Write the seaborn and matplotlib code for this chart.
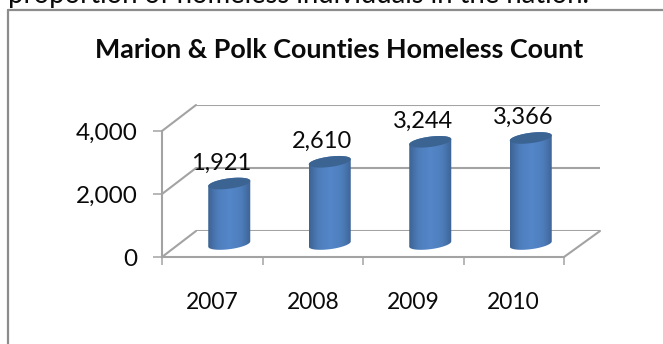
import numpy as np
import pandas as pd
import matplotlib
matplotlib.use("Agg")
import matplotlib.pyplot as plt
from matplotlib.patches import PathPatch, ConnectionPatch
from matplotlib.path import Path
import seaborn as sns

years = ["2007", "2008", "2009", "2010"]
counts = [1921, 2610, 3244, 3366]
y_ticks = [0, 2000, 4000]
title = "Marion & Polk Counties Homeless Count"
lead_in = "proportion of homeless individuals in the nation."

W, H = 663, 344
GRID = "#a3a3a3"
FRAME = "#8c8c8c"
TEXT = "#0a0a0a"
BAR_EDGE = (0.24, 0.39, 0.58)
BAR_MID = (0.33, 0.53, 0.79)
BAR_TOP = "#3c6493"

sns.set_theme(style="white")
plt.rcParams["font.family"] = ["Lato", "DejaVu Sans"]

fig = plt.figure(figsize=(W / 100, H / 100), dpi=100, facecolor="white")


def plane(x0, x1, y_bottom, y_top):
    """Axes whose box is given in pixels from the top left corner."""
    ax = fig.add_axes([x0 / W, 1 - y_bottom / H, (x1 - x0) / W, (y_bottom - y_top) / H])
    ax.patch.set_alpha(0)
    ax.set_xlim(-0.5, 3.5)
    ax.set_ylim(0, 4000)
    for spine in ax.spines.values():
        spine.set_visible(False)
    return ax


# Back wall with its gridlines
back = plane(196, 600, 231, 105)
back.set_xticks([])
back.set_yticks(y_ticks)
back.tick_params(left=False, labelleft=False)
back.grid(axis="y", color=GRID, lw=1.5)
back.set_axisbelow(True)

# Front plane carries the spines, ticks and tick labels
front = plane(162, 564, 257, 131)
front.spines["left"].set(visible=True, color=GRID, lw=1.5)
front.spines["bottom"].set(visible=True, color=GRID, lw=1.5)
front.set_yticks(y_ticks)
front.set_yticklabels([f"{v:,}" for v in y_ticks], fontsize=17.5, color=TEXT)
front.set_xticks(range(len(years)))
front.set_xticklabels(years, fontsize=16.4, color=TEXT)
front.set_xticks(np.arange(-0.5, 4), minor=True)
front.tick_params(axis="y", length=6.5, width=1.1, color=GRID, pad=11, left=True)
front.tick_params(axis="x", which="major", length=0, pad=25)
front.tick_params(axis="x", which="minor", length=5.5, width=1.1, color=GRID, bottom=True)

# Side edges running from the front plane to the back wall
for v in y_ticks:
    fig.add_artist(ConnectionPatch((-0.5, v), (-0.5, v), "data", "data",
                                   axesA=front, axesB=back, color=GRID, lw=1.5))
fig.add_artist(ConnectionPatch((3.5, 0), (3.5, 0), "data", "data",
                               axesA=front, axesB=back, color=GRID, lw=1.5))

# Column plane sits halfway between front and back
mid = plane(179, 581, 244, 118)
df = pd.DataFrame({"year": years, "count": counts})
sns.barplot(data=df, x="year", y="count", ax=mid, width=0.418, color=BAR_MID,
            saturation=1, legend=False, zorder=2)
mid.set_xlabel("")
mid.set_ylabel("")
mid.set_xticks([])
mid.set_yticks([])

# Pixel sizes in data units, for the elliptical cylinder ends
px_y = 4000 / 126
t = np.linspace(0, 2 * np.pi, 121)


def ring(cx, cy, half_w, angles):
    return np.column_stack([
        cx + half_w * np.cos(angles),
        cy + (5.2 * np.sin(angles) + 2.6 * np.cos(angles)) * px_y,
    ])


ramp = np.interp(np.linspace(0, 1, 64), [0, 0.22, 0.5, 0.78, 1],
                 [0, 0.72, 1, 0.72, 0])[None, :, None]
edge = np.array(BAR_EDGE)[None, None, :]
centre = np.array(BAR_MID)[None, None, :]
gradient = edge + (centre - edge) * ramp

for bar in list(mid.patches):
    x0, w, h = bar.get_x(), bar.get_width(), bar.get_height()
    cx = x0 + w / 2
    bar.set_visible(False)

    # Column side: front half of the base joined to the back half of the rim
    lower = ring(cx, 0, w / 2, np.linspace(np.pi, 2 * np.pi, 60))
    upper = ring(cx, h, w / 2, np.linspace(0, np.pi, 60))
    outline = np.vstack([lower, upper, lower[:1]])
    body = PathPatch(Path(outline), fc="none", ec="none", transform=mid.transData,
                     clip_on=False)
    mid.add_patch(body)
    img = mid.imshow(gradient, extent=(x0, x0 + w, -12 * px_y, h + 12 * px_y),
                     aspect="auto", zorder=3, interpolation="bilinear")
    # The rounded base dips below the axes box, so clip to the figure and the column only
    img.set_clip_box(fig.bbox)
    img.set_clip_path(body)

    cap = PathPatch(Path(ring(cx, h, w / 2, t)), fc=BAR_TOP, ec="none", zorder=4,
                    transform=mid.transData, clip_on=False)
    mid.add_patch(cap)

    mid.annotate(f"{h:,.0f}", (cx, h), xytext=(-5.5, 14.5), textcoords="offset points",
                 ha="center", va="center", fontsize=17, color=TEXT, zorder=5,
                 annotation_clip=False)

mid.set_xlim(-0.5, 3.5)
mid.set_ylim(0, 4000)

# Chart frame and surrounding page text
fig.add_artist(plt.Line2D([7.5 / W, 7.5 / W], [0, 1 - 10 / H], color=FRAME, lw=1.6))
fig.add_artist(plt.Line2D([7.5 / W, 1], [1 - 10 / H, 1 - 10 / H], color=FRAME, lw=1.6))
fig.text(339 / W, 1 - 50 / H, title, ha="center", va="center", fontsize=19.4,
         fontweight="bold", color=TEXT)
fig.text(8 / W, 1 - 3 / H, lead_in, ha="left", va="baseline", fontsize=19.8, color=TEXT)

fig.savefig("out.png", dpi=100)
